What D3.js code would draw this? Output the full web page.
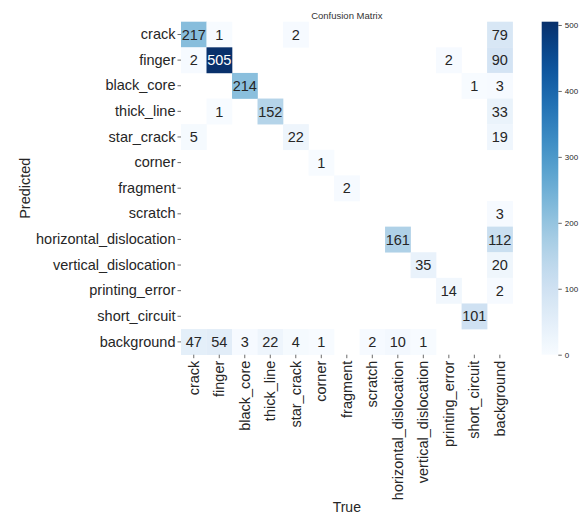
<!DOCTYPE html>
<html>
<head>
<meta charset="utf-8">
<script src="https://cdn.jsdelivr.net/npm/d3@7"></script>
<style>
  html, body { margin: 0; padding: 0; background: #fff; }
  svg { display: block; }
  text { font-family: "Liberation Sans", Arial, sans-serif; fill: #262626; }
</style>
</head>
<body>
<svg id="chart" width="587" height="516"></svg>
<script>
// Class names (rows = predicted, columns = true)
const classes = [
  "crack", "finger", "black_core", "thick_line", "star_crack", "corner",
  "fragment", "scratch", "horizontal_dislocation", "vertical_dislocation",
  "printing_error", "short_circuit", "background"
];

// One array per predicted class; zeros are left blank in the grid
const predCrack       = [217, 1, 0, 0, 2, 0, 0, 0, 0, 0, 0, 0, 79];
const predFinger      = [2, 505, 0, 0, 0, 0, 0, 0, 0, 0, 2, 0, 90];
const predBlackCore   = [0, 0, 214, 0, 0, 0, 0, 0, 0, 0, 0, 1, 3];
const predThickLine   = [0, 1, 0, 152, 0, 0, 0, 0, 0, 0, 0, 0, 33];
const predStarCrack   = [5, 0, 0, 0, 22, 0, 0, 0, 0, 0, 0, 0, 19];
const predCorner      = [0, 0, 0, 0, 0, 1, 0, 0, 0, 0, 0, 0, 0];
const predFragment    = [0, 0, 0, 0, 0, 0, 2, 0, 0, 0, 0, 0, 0];
const predScratch     = [0, 0, 0, 0, 0, 0, 0, 0, 0, 0, 0, 0, 3];
const predHorizontal  = [0, 0, 0, 0, 0, 0, 0, 0, 161, 0, 0, 0, 112];
const predVertical    = [0, 0, 0, 0, 0, 0, 0, 0, 0, 35, 0, 0, 20];
const predPrinting    = [0, 0, 0, 0, 0, 0, 0, 0, 0, 0, 14, 0, 2];
const predShort       = [0, 0, 0, 0, 0, 0, 0, 0, 0, 0, 0, 101, 0];
const predBackground  = [47, 54, 3, 22, 4, 1, 0, 2, 10, 1, 0, 0, 0];

const matrix = [
  predCrack, predFinger, predBlackCore, predThickLine, predStarCrack,
  predCorner, predFragment, predScratch, predHorizontal, predVertical,
  predPrinting, predShort, predBackground
];

const colorbarTicks = [0, 100, 200, 300, 400, 500];
const titleText = "Confusion Matrix";
const xLabel = "True";
const yLabel = "Predicted";

// Flatten into cells, skipping zero counts
const cells = [];
matrix.forEach((row, r) => row.forEach((v, c) => {
  if (v > 0) cells.push({ pred: classes[r], truth: classes[c], value: v });
}));

const vmax = d3.max(cells, d => d.value);

const svg = d3.select("#chart");
const grid = { left: 181, right: 512.6, top: 21.7, bottom: 354.7 };

const x = d3.scaleBand().domain(classes).range([grid.left, grid.right]);
const y = d3.scaleBand().domain(classes).range([grid.top, grid.bottom]);
const color = d3.scaleSequential(d3.interpolateBlues).domain([0, vmax]);

// Heatmap cells
svg.append("g").selectAll("rect")
  .data(cells)
  .join("rect")
  .attr("x", d => x(d.truth))
  .attr("y", d => y(d.pred))
  .attr("width", x.bandwidth() + 0.3)
  .attr("height", y.bandwidth() + 0.3)
  .attr("fill", d => color(d.value));

// Annotations: white on dark cells
function textColor(v) {
  const c = d3.rgb(color(v));
  const lum = (0.2126 * c.r + 0.7152 * c.g + 0.0722 * c.b) / 255;
  return lum < 0.408 ? "#ffffff" : "#262626";
}
svg.append("g").selectAll("text")
  .data(cells)
  .join("text")
  .attr("x", d => x(d.truth) + x.bandwidth() / 2)
  .attr("y", d => y(d.pred) + y.bandwidth() / 2)
  .attr("dy", "0.36em")
  .attr("text-anchor", "middle")
  .style("font-size", "14.5px")
  .style("fill", d => textColor(d.value))
  .text(d => d.value);

// Y axis (predicted)
const yAxis = svg.append("g")
  .attr("transform", `translate(${grid.left},0)`)
  .call(d3.axisLeft(y).tickSize(3.5).tickPadding(2));
yAxis.select(".domain").remove();
yAxis.selectAll("line").attr("stroke", "#444").attr("stroke-width", 0.8);
yAxis.selectAll("text").style("font-size", "14.5px").style("font-family", "Liberation Sans, Arial, sans-serif").attr("fill", "#262626");

// X axis (true), labels rotated
const xAxis = svg.append("g")
  .attr("transform", `translate(0,${grid.bottom})`)
  .call(d3.axisBottom(x).tickSize(3.5).tickPadding(2));
xAxis.select(".domain").remove();
xAxis.selectAll("line").attr("stroke", "#444").attr("stroke-width", 0.8);
xAxis.selectAll("text")
  .style("font-size", "14.5px")
  .style("font-family", "Liberation Sans, Arial, sans-serif")
  .attr("fill", "#262626")
  .attr("text-anchor", "end")
  .attr("transform", "rotate(-90)")
  .attr("x", -6)
  .attr("y", 0)
  .attr("dy", "0.35em");

// Axis titles
svg.append("text")
  .attr("x", (grid.left + grid.right) / 2)
  .attr("y", 512)
  .attr("text-anchor", "middle")
  .style("font-size", "14px")
  .text(xLabel);

svg.append("text")
  .attr("transform", `translate(30,${(grid.top + grid.bottom) / 2}) rotate(-90)`)
  .attr("text-anchor", "middle")
  .style("font-size", "14.5px")
  .text(yLabel);

// Title
svg.append("text")
  .attr("x", (grid.left + grid.right) / 2)
  .attr("y", 18.5)
  .attr("text-anchor", "middle")
  .style("font-size", "9.5px")
  .style("fill", "#333")
  .text(titleText);

// Colorbar
const cb = { x: 541.7, width: 16.6 };
const cbScale = d3.scaleLinear().domain([0, vmax]).range([grid.bottom, grid.top]);
const defs = svg.append("defs");
const grad = defs.append("linearGradient")
  .attr("id", "cbgrad")
  .attr("x1", 0).attr("y1", 1).attr("x2", 0).attr("y2", 0);
d3.range(0, 1.0001, 0.05).forEach(t => {
  grad.append("stop")
    .attr("offset", t)
    .attr("stop-color", color(t * vmax));
});
svg.append("rect")
  .attr("x", cb.x)
  .attr("y", grid.top)
  .attr("width", cb.width)
  .attr("height", grid.bottom - grid.top)
  .attr("fill", "url(#cbgrad)");

const cbAxis = svg.append("g")
  .attr("transform", `translate(${cb.x + cb.width},0)`)
  .call(d3.axisRight(cbScale).tickValues(colorbarTicks).tickSize(3.5).tickPadding(3));
cbAxis.select(".domain").remove();
cbAxis.selectAll("line").attr("stroke", "#444").attr("stroke-width", 0.8);
cbAxis.selectAll("text")
  .style("font-size", "8px")
  .style("font-family", "Liberation Sans, Arial, sans-serif")
  .attr("fill", "#444");
</script>
</body>
</html>
